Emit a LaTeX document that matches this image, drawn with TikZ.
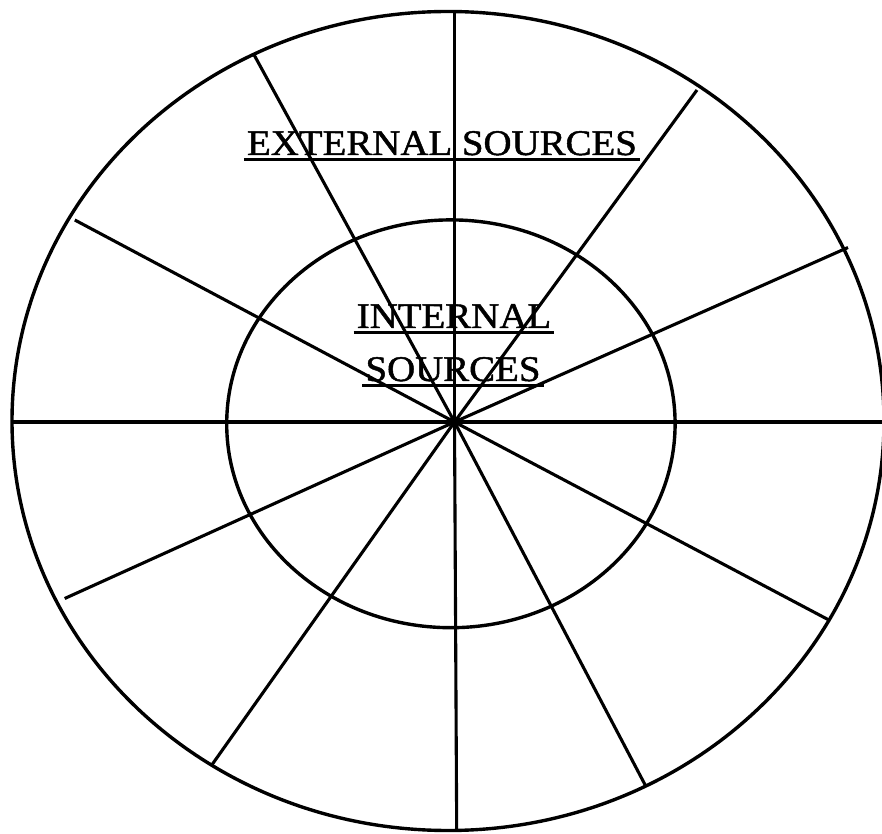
\documentclass[tikz,border=0pt]{standalone}
\usepackage{fontspec}
\setmainfont{Liberation Serif}[FakeStretch=1.08,FakeBold=1.3]
\begin{document}
\begin{tikzpicture}[x=1pt,y=1pt,
  ring/.style={line width=3.4pt},
  spoke/.style={line width=3.1pt},
  lbl/.style={anchor=base,inner sep=0pt,font=\fontsize{36}{40}\selectfont},
  ul/.style={line width=2.4pt}]
\useasboundingbox (0,0) rectangle (882,833);
\clip (0,0) rectangle (882,833);
% rings
\draw[ring] (448,412) ellipse [x radius=436pt, y radius=409.5pt];
\draw[ring] (450.9,409.2) ellipse [x radius=224.2pt, y radius=203.9pt];
% spoke hub and ends
\coordinate (c) at (454.5,411);
\coordinate (pN)  at (454.5,820);
\coordinate (pS)  at (456.7,2);
\coordinate (pW)  at (12.4,411);
\coordinate (pE)  at (884,411);
\coordinate (pNW) at (254,778.3);
\coordinate (pNE) at (697,743);
\coordinate (pWN) at (74.8,613);
\coordinate (pEN) at (848,585.5);
\coordinate (pWS) at (64.7,234.5);
\coordinate (pES) at (828.5,213.2);
\coordinate (pSW) at (212,68.3);
\coordinate (pSE) at (645.7,47);
\foreach \p in {pN,pS,pW,pE,pNW,pNE,pWN,pEN,pWS,pES,pSW,pSE}
  \draw[spoke] (c) -- (\p);
% labels
\node[lbl] (ext) at (442,678) {EXTERNAL SOURCES};
\node[lbl] (int1) at (454,505) {INTERNAL};
\node[lbl] (int2) at (453,452) {SOURCES};
\foreach \n in {ext,int1,int2}
  \draw[ul] ([xshift=-3pt,yshift=-4.5pt]\n.base west) -- ([xshift=3pt,yshift=-4.5pt]\n.base east);
\end{tikzpicture}
\end{document}
